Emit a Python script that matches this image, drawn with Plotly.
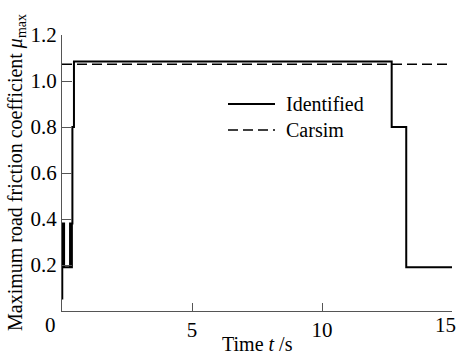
import plotly.graph_objects as go

# Identified step series (change points, hv steps)
t_identified = [0.01, 0.01, 0.08, 0.31, 0.35, 0.38, 0.40, 0.46, 12.68, 13.24, 15.0]
mu_identified = [0.05, 0.38, 0.19, 0.38, 0.19, 0.38, 0.80, 1.085, 0.80, 0.19, 0.19]

# Carsim reference
t_carsim = [0.0, 15.0]
mu_carsim = [1.073, 1.073]

x_ticks = [0, 5, 10, 15]
x_ticklabels = ["0", "5", "10", "15"]
y_ticks = [0, 0.2, 0.4, 0.6, 0.8, 1.0, 1.2]
y_ticklabels = ["0", "0.2", "0.4", "0.6", "0.8", "1.0", "1.2"]

series_names = ["Identified", "Carsim"]

FONT = "Liberation Serif, Times New Roman, serif"

fig = go.Figure()
fig.add_trace(go.Scatter(x=t_identified, y=mu_identified, mode="lines", name=series_names[0],
                         line=dict(color="black", width=2, shape="hv"), showlegend=False))
fig.add_trace(go.Scatter(x=t_carsim, y=mu_carsim, mode="lines", name=series_names[1],
                         line=dict(color="black", width=1.5, dash="10px,5px"), showlegend=False))

axis_common = dict(showgrid=False, zeroline=False, showline=True, linecolor="#555",
                   linewidth=1, ticks="inside", tickcolor="#555", tickwidth=1,
                   ticklabeloverflow="allow", automargin=False,
                   tickfont=dict(family=FONT, size=21, color="black"))
# the shared corner "0" and the edge "15" are drawn as annotations below
x_shown = [""] + x_ticklabels[1:-1] + [""]
y_shown = [""] + y_ticklabels[1:]
fig.update_xaxes(range=[0, 15], tickvals=x_ticks, ticktext=x_shown, ticklen=8, **axis_common)
fig.update_yaxes(range=[0, 1.2], tickvals=y_ticks, ticktext=y_shown, ticklen=10, **axis_common)

# manual legend (paper coordinates)
W, H, L, R, T, B = 460, 361, 62, 8, 35, 50
pw, ph = W - L - R, H - T - B
def px(x):
    return (x - L) / pw
def py(y):
    return (H - B - y) / ph

legend_rows = [(104, "solid", 2), (130, "10px,5px", 1.5)]
shapes = []
annotations = []
for name, (ly, dash, lw) in zip(series_names, legend_rows):
    shapes.append(dict(type="line", xref="paper", yref="paper", x0=px(228), x1=px(275),
                       y0=py(ly), y1=py(ly), line=dict(color="black", width=lw, dash=dash)))
    annotations.append(dict(text=name, xref="paper", yref="paper", x=px(284), y=py(ly),
                            xanchor="left", yanchor="middle", showarrow=False,
                            font=dict(family=FONT, size=20)))

annotations += [
    # shared origin label
    dict(text=x_ticklabels[0], xref="x", yref="y", x=x_ticks[0], y=y_ticks[0],
         xshift=-12, yshift=-14, showarrow=False, xanchor="center", yanchor="middle",
         font=dict(family=FONT, size=21)),
    # last x tick label, kept inside the page
    dict(text=x_ticklabels[-1], xref="x", yref="y", x=x_ticks[-1], y=y_ticks[0],
         xshift=6, yshift=-14, showarrow=False, xanchor="right", yanchor="middle",
         font=dict(family=FONT, size=21)),
    dict(text="Time <i>t</i> /s", xref="paper", yref="paper", x=0.5, y=0,
         yshift=-33, showarrow=False, xanchor="center", yanchor="middle",
         font=dict(family=FONT, size=20)),
    dict(text="Maximum road friction coefficient <i>μ</i><sub>max</sub>", xref="paper", yref="paper",
         x=0, y=0.5, xshift=-46, textangle=-90, showarrow=False,
         xanchor="center", yanchor="middle", font=dict(family=FONT, size=20)),
]

fig.update_layout(
    template="none",
    width=W, height=H,
    margin=dict(l=L, r=R, t=T, b=B),
    plot_bgcolor="white", paper_bgcolor="white",
    font=dict(family=FONT, size=20, color="black"),
    showlegend=False,
    shapes=shapes,
    annotations=annotations,
)

fig.write_html("out.html")
